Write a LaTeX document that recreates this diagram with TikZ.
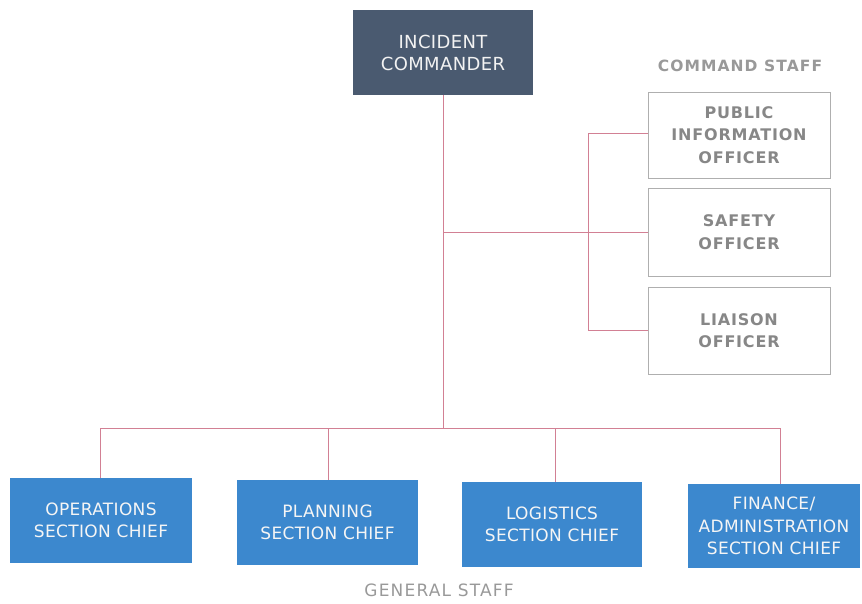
\documentclass[tikz,border=0pt]{standalone}
\usepackage{fontspec}
\setmainfont{DejaVu Sans}
\newfontfamily\gsfont[LetterSpace=2]{DejaVu Sans}
\newfontfamily\csfont[LetterSpace=5]{DejaVu Sans}
\newfontfamily\lblfont[LetterSpace=7]{DejaVu Sans}
\definecolor{icfill}{RGB}{74,90,112}
\definecolor{gsfill}{RGB}{60,136,206}
\definecolor{linkc}{RGB}{210,128,148}
\definecolor{graytxt}{RGB}{135,135,135}
\definecolor{grayline}{RGB}{175,175,175}
\begin{document}
\begin{tikzpicture}[x=1pt,y=-1pt,
  box/.style={minimum width=#1, inner sep=0pt, align=center},
  icbox/.style={fill=icfill, text=white!90!gray, font=\gsfont\fontsize{18}{22}\selectfont},
  gsbox/.style={fill=gsfill, text=white!92!gray, font=\gsfont\fontsize{17}{22.5}\selectfont},
  csbox/.style={draw=grayline, line width=0.8pt, text=graytxt, font=\csfont\bfseries\fontsize{16}{22.5}\selectfont},
  link/.style={draw=linkc, line width=1pt},
  lbl/.style={text=graytxt!85!white, font=\lblfont\fontsize{17}{20}\selectfont}]
\useasboundingbox (0,0) rectangle (862,603);
\node[box=180pt, minimum height=85pt, icbox] (ic) at (443,52.5) {INCIDENT\\COMMANDER};
\node[lbl, font=\lblfont\bfseries\fontsize{15.5}{20}\selectfont] (cslbl) at (740,66) {COMMAND STAFF};
\node[box=182pt, minimum height=86pt, csbox] (pio) at (739,135) {PUBLIC\\INFORMATION\\OFFICER};
\node[box=182pt, minimum height=88pt, csbox] (saf) at (739,232) {SAFETY\\OFFICER};
\node[box=182pt, minimum height=87pt, csbox] (lia) at (739,330.5) {LIAISON\\OFFICER};
\node[box=182pt, minimum height=85pt, gsbox] (ops) at (101,520.5) {OPERATIONS\\SECTION CHIEF};
\node[box=181pt, minimum height=85pt, gsbox] (pla) at (327.5,522.5) {PLANNING\\SECTION CHIEF};
\node[box=180pt, minimum height=85pt, gsbox] (log) at (552,524.5) {LOGISTICS\\SECTION CHIEF};
\node[box=172pt, minimum height=84pt, gsbox] (fin) at (774,526) {FINANCE/\\ADMINISTRATION\\SECTION CHIEF};
\node[lbl] (gslbl) at (439,590) {GENERAL STAFF};
\coordinate (hub) at (443,428);
\coordinate (mid) at (443,232);
\draw[link] (ic.south) -- (hub);
\draw[link] (mid) -- (saf.west);
\draw[link] (pio.west |- 0,133) -| (588,330) -- (lia.west |- 0,330);
\draw[link] (100,478) |- (780,428) -- (780,484);
\draw[link] (328,428) -- (328,480);
\draw[link] (555,428) -- (555,482);
\end{tikzpicture}
\end{document}
